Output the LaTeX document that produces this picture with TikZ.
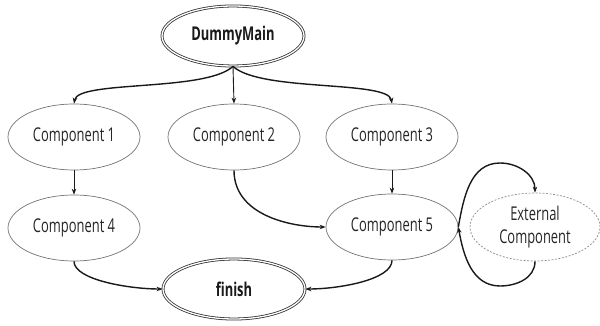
\documentclass[tikz,border=0pt]{standalone}
\usepackage{fontspec}
\setmainfont{Open Sans}
\usetikzlibrary{shapes.geometric,arrows.meta}
\newcommand{\sqz}[1]{\scalebox{0.68}[1]{#1}}
\begin{document}
\begin{tikzpicture}[x=1pt,y=-1pt,
  comp/.style={ellipse,draw=black!55,line width=0.7pt,minimum width=132pt,minimum height=66pt,inner sep=0pt,font=\fontsize{19}{22}\selectfont,text=black!85},
  term/.style={ellipse,draw=black!80,double,double distance=1.3pt,line width=0.8pt,minimum width=142pt,minimum height=60pt,inner sep=0pt,font=\fontsize{19}{22}\selectfont\bfseries,text=black!90},
  ext/.style={comp,draw=black!45,dashed,dash pattern=on 2pt off 1.5pt,minimum width=130pt,minimum height=68pt,align=center,font=\fontsize{19}{22}\selectfont},
  arr/.style={-{Stealth[length=6pt,width=4.5pt]},line width=1.4pt,black!90},
  sarr/.style={-{Stealth[length=6pt,width=4.5pt]},line width=0.9pt,black!90}]
\useasboundingbox (0,0) rectangle (600,326);
\node[term] (dm) at (233,36) {\sqz{DummyMain}};
\node[comp] (c1) at (74,137) {\sqz{Component 1}};
\node[comp] (c2) at (234,137) {\sqz{Component 2}};
\node[comp] (c3) at (392,137) {\sqz{Component 3}};
\node[comp] (c4) at (74,228) {\sqz{Component 4}};
\node[comp] (c5) at (392,227) {\sqz{Component 5}};
\node[ext] (ex) at (535,227) {\sqz{External}\\[1pt]\sqz{Component}};
\node[term] (fi) at (234,289) {\sqz{finish}};
\coordinate (top) at (500,163);
\coordinate (bot) at (500,286);
\draw[arr] (dm.south) .. controls (205,92) and (78,80) .. (c1.north);
\draw[sarr] (dm.south) -- (c2.north);
\draw[arr] (dm.south) .. controls (261,92) and (388,80) .. (c3.north);
\draw[sarr] (c1.south) -- (c4.north);
\draw[sarr] (c3.south) -- (c5.north);
\draw[arr] (c2.south) .. controls (234,215) and (290,227) .. (c5.west);
\draw[arr] (c4.south) .. controls (74,280) and (130,289) .. (fi.west);
\draw[arr] (c5.south) .. controls (392,280) and (338,289) .. (fi.east);
\draw[arr] (c5.east) to[out=80,in=180] (top) to[out=0,in=90] (ex.north);
\draw[arr] (ex.south) to[out=-90,in=0] (bot) to[out=180,in=-80] (c5.east);
\end{tikzpicture}
\end{document}
